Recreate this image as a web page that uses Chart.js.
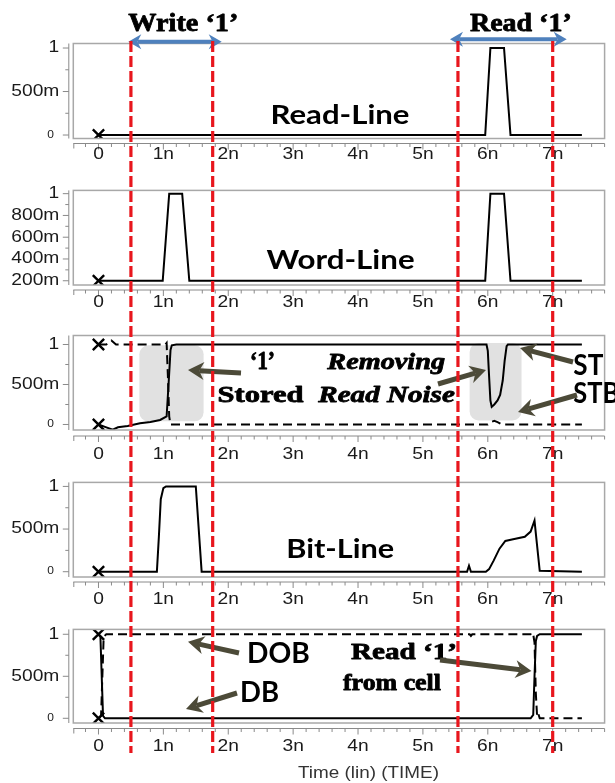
<!DOCTYPE html>
<html>
<head>
<meta charset="utf-8">
<script src="https://cdn.jsdelivr.net/npm/chart.js@4.4.1/dist/chart.umd.min.js"></script>
<style>
  html, body { margin: 0; padding: 0; background: #fff; }
  #page { position: relative; width: 615px; height: 783px; overflow: hidden; }
  #page canvas { position: absolute; left: 0; }
  #overlay { top: 0; pointer-events: none; }
</style>
</head>
<body>
<div id="page">
  <canvas id="p1"></canvas>
  <canvas id="p2"></canvas>
  <canvas id="p3"></canvas>
  <canvas id="p4"></canvas>
  <canvas id="p5"></canvas>
  <canvas id="overlay" width="615" height="783"></canvas>
</div>
<script>
// time axis (ns)
const xTickValues = [0, 1, 2, 3, 4, 5, 6, 7];
const xTickLabels = ['0', '1n', '2n', '3n', '4n', '5n', '6n', '7n'];

const yTicks01 = [0, 0.5, 1];
const yLabels01 = ['0', '500m', '1'];
const yMinor01 = [0.25, 0.75];
const yTicksWL = [0.2, 0.4, 0.6, 0.8, 1];
const yLabelsWL = ['200m', '400m', '600m', '800m', '1'];
const yMinorWL = [0.3, 0.5, 0.7, 0.9];

// waveforms
const readLineT = [0, 5.96, 6.04, 6.25, 6.35, 7.45];
const readLineV = [0, 0, 1, 1, 0, 0];

const wordLineT = [0, 0.99, 1.09, 1.29, 1.40, 5.96, 6.04, 6.25, 6.35, 7.45];
const wordLineV = [0.2, 0.2, 1, 1, 0.2, 0.2, 1, 1, 0.2, 0.2];

const stT = [0, 0.1, 0.22, 0.3, 0.45, 0.64, 0.8, 0.95, 1.05, 1.08, 1.11, 1.13, 1.2,
             5.98, 6.0, 6.02, 6.04, 6.06, 6.1, 6.15, 6.19, 6.23, 6.26, 6.29, 6.31, 7.45];
const stV = [0, -0.03, -0.065, -0.035, -0.02, 0.015, 0.03, 0.056, 0.1, 0.5, 0.93, 0.99, 1,
             1, 0.92, 0.6, 0.3, 0.22, 0.25, 0.3, 0.37, 0.55, 0.8, 0.98, 1, 1];

const stbT = [0, 0.12, 0.2, 0.27, 1.03, 1.05, 1.07, 1.09, 1.11, 6.0, 6.05, 6.1, 6.15, 6.22, 7.45];
const stbV = [1, 1, 1.05, 1, 1, 1.02, 0.6, 0.1, 0, 0, 0.03, 0.045, 0.03, 0, 0];

const bitLineT = [0, 0.9, 0.93, 0.96, 1.0, 1.04, 1.5, 1.59, 5.68, 5.71, 5.74, 5.97, 6.02, 6.09, 6.18,
                  6.27, 6.39, 6.57, 6.66, 6.72, 6.74, 6.8, 7.45];
const bitLineV = [0, 0, 0.4, 0.85, 0.98, 1, 1, 0, 0, 0.07, 0, 0, 0.03, 0.13, 0.27,
                  0.36, 0.38, 0.41, 0.47, 0.6, 0.45, 0.01, 0];

const dbT = [0, 0.03, 0.05, 0.07, 0.1, 6.66, 6.7, 6.72, 6.74, 6.76, 6.8, 7.45];
const dbV = [1, 0.97, 0.5, 0.03, 0, 0, 0.04, 0.5, 0.92, 0.98, 1, 1];
const dobT = [0, 0.04, 0.06, 0.08, 0.12, 5.72, 5.74, 5.76, 6.66, 6.68, 6.7, 6.72, 6.74, 6.76, 6.78, 6.8, 6.84, 7.45];
const dobV = [0, 0.03, 0.5, 0.97, 1, 1, 0.98, 1, 1, 0.98, 1, 0.9, 0.3, 0.02, 0.05, 0, 0, 0];

// write / read window markers (ns)
const markerT = [0.5, 1.76, 5.54, 7.0];
// shaded regions in panel 3: [t0, t1, v0, v1]
const shadeST = [[0.63, 1.62, 0.04, 0.99], [5.72, 6.52, 0.05, 1.02]];

const X_MIN = -0.388, X_MAX = 7.8;
const BOX_LEFT = 73.3, BOX_RIGHT = 605.5, PAGE_W = 615;
const LABEL_FONT = 'Liberation Sans, Arial, sans-serif';
const SX = 1.2; // the waveform screenshot is stretched horizontally

function pts(t, v) { return t.map((x, i) => ({ x: x, y: v[i] })); }

function stretchText(ctx, text, x, y, sx, align) {
  ctx.save();
  ctx.translate(x, y);
  ctx.scale(sx, 1);
  ctx.textAlign = align;
  ctx.fillText(text, 0, 0);
  ctx.restore();
}

const panelFrame = {
  id: 'panelFrame',
  beforeDatasetsDraw(chart, args, opts) {
    const { ctx, scales: { x, y } } = chart;
    (opts.shade || []).forEach(s => {
      const l = x.getPixelForValue(s[0]), r = x.getPixelForValue(s[1]);
      const t = y.getPixelForValue(s[3]), b = y.getPixelForValue(s[2]);
      ctx.save();
      ctx.fillStyle = '#e1e1e1';
      ctx.beginPath();
      ctx.roundRect(l, t, r - l, b - t, 9);
      ctx.fill();
      ctx.restore();
    });
  },
  afterDraw(chart, args, opts) {
    const { ctx, chartArea: a, scales: { x, y } } = chart;
    ctx.save();
    ctx.strokeStyle = '#a8a8a8';
    ctx.lineWidth = 1.5;
    ctx.strokeRect(a.left, a.top, a.right - a.left, a.bottom - a.top);

    // y axis line + ticks
    const yx = a.left - 4.5;
    ctx.strokeStyle = '#8a8a8a';
    ctx.lineWidth = 1;
    ctx.beginPath();
    ctx.moveTo(yx, a.top); ctx.lineTo(yx, a.bottom);
    opts.yMajor.forEach(v => { const p = y.getPixelForValue(v); ctx.moveTo(yx - 6, p); ctx.lineTo(yx, p); });
    opts.yMinor.forEach(v => { const p = y.getPixelForValue(v); ctx.moveTo(yx - 3.5, p); ctx.lineTo(yx, p); });
    // x axis line + ticks
    const xy = a.bottom + opts.xGap;
    ctx.moveTo(a.left, xy); ctx.lineTo(a.right, xy);
    ctx.moveTo(a.left + 0.5, xy); ctx.lineTo(a.left + 0.5, xy + 5);
    for (let k = Math.ceil(x.min * 5); k <= Math.floor(x.max * 5); k++) {
      const p = x.getPixelForValue(k / 5);
      ctx.moveTo(p, xy); ctx.lineTo(p, xy + (k % 5 === 0 ? 6 : 3.5));
    }
    ctx.stroke();

    // tick labels
    ctx.fillStyle = '#1a1a1a';
    ctx.textBaseline = 'middle';
    opts.yMajor.forEach((v, i) => {
      const p = y.getPixelForValue(v);
      if (v === 0) {
        ctx.font = '10px ' + LABEL_FONT;
        stretchText(ctx, opts.yLabels[i], yx - 15, p, SX, 'right');
      } else {
        ctx.font = '16px ' + LABEL_FONT;
        stretchText(ctx, opts.yLabels[i], yx - 9.5, p, SX, 'right');
      }
    });
    ctx.font = '16px ' + LABEL_FONT;
    const ly = a.bottom + opts.xLabelOffset;
    xTickValues.forEach((v, i) => {
      stretchText(ctx, xTickLabels[i], x.getPixelForValue(v), ly, SX, 'center');
    });
    ctx.restore();
  }
};

function series(t, v, dashed) {
  return {
    data: pts(t, v),
    borderColor: '#000',
    borderWidth: 2,
    borderDash: dashed ? [9, 5] : [],
    tension: 0,
    pointStyle: 'crossRot',
    pointRadius: c => (c.dataIndex === 0 ? 8 : 0),
    pointBorderColor: '#000',
    pointBorderWidth: 2.4
  };
}

const panels = [
  { id: 'p1', top: 43.5, bottom: 138.5, yMin: -0.04, yMax: 1.052, xGap: 5, xLabelOffset: 16.5,
    yMajor: yTicks01, yLabels: yLabels01, yMinor: yMinor01,
    datasets: [series(readLineT, readLineV, false)] },
  { id: 'p2', top: 190, bottom: 285, yMin: 0.161, yMax: 1.03, xGap: 5, xLabelOffset: 18,
    yMajor: yTicksWL, yLabels: yLabelsWL, yMinor: yMinorWL,
    datasets: [series(wordLineT, wordLineV, false)] },
  { id: 'p3', top: 335.5, bottom: 430, yMin: -0.069, yMax: 1.1125, xGap: 6, xLabelOffset: 25,
    yMajor: yTicks01, yLabels: yLabels01, yMinor: yMinor01, shade: shadeST,
    datasets: [series(stbT, stbV, true), series(stT, stV, false)] },
  { id: 'p4', top: 482, bottom: 577, yMin: -0.062, yMax: 1.047, xGap: 5, xLabelOffset: 23,
    yMajor: yTicks01, yLabels: yLabels01, yMinor: yMinor01,
    datasets: [series(bitLineT, bitLineV, false)] },
  { id: 'p5', top: 629.3, bottom: 723, yMin: -0.056, yMax: 1.058, xGap: 5.5, xLabelOffset: 24,
    yMajor: yTicks01, yLabels: yLabels01, yMinor: yMinor01,
    datasets: [series(dobT, dobV, true), series(dbT, dbV, false)] }
];

const charts = panels.map(p => {
  const canvas = document.getElementById(p.id);
  const cTop = Math.floor(p.top - 10);
  const cH = Math.ceil(p.bottom - cTop + 40);
  canvas.width = PAGE_W;
  canvas.height = cH;
  canvas.style.top = cTop + 'px';
  return new Chart(canvas, {
    type: 'line',
    data: { datasets: p.datasets },
    options: {
      responsive: false,
      animation: false,
      events: [],
      layout: { padding: { top: p.top - cTop, left: 0, right: PAGE_W - BOX_RIGHT, bottom: 0 } },
      plugins: {
        legend: { display: false },
        tooltip: { enabled: false },
        panelFrame: p
      },
      scales: {
        x: {
          type: 'linear', min: X_MIN, max: X_MAX,
          grid: { display: false }, border: { display: false },
          ticks: { display: false },
          afterFit: s => { s.height = cH - (p.bottom - cTop); }
        },
        y: {
          min: p.yMin, max: p.yMax,
          grid: { display: false }, border: { display: false },
          ticks: { display: false },
          afterFit: s => { s.width = BOX_LEFT; }
        }
      }
    },
    plugins: [panelFrame]
  });
});

// ---- annotations ----
const ov = document.getElementById('overlay').getContext('2d');

function fitText(ctx, text, font, left, baseline, width, color, heavy) {
  ctx.save();
  ctx.font = font;
  ctx.fillStyle = color || '#000';
  ctx.strokeStyle = color || '#000';
  ctx.lineWidth = heavy || 0;
  ctx.lineJoin = 'round';
  ctx.textBaseline = 'alphabetic';
  ctx.textAlign = 'left';
  const w = ctx.measureText(text).width;
  ctx.translate(left, baseline);
  ctx.scale(width / w, 1);
  ctx.fillText(text, 0, 0);
  if (heavy) ctx.strokeText(text, 0, 0);
  ctx.restore();
}

function arrow(ctx, x0, y0, x1, y1, color, lw, len, half, both) {
  ctx.save();
  ctx.strokeStyle = color;
  ctx.fillStyle = color;
  ctx.lineWidth = lw;
  ctx.lineCap = 'butt';
  const a = Math.atan2(y1 - y0, x1 - x0);
  const c = Math.cos(a), s = Math.sin(a);
  const sx = both ? x0 + c * len * 0.7 : x0, sy = both ? y0 + s * len * 0.7 : y0;
  ctx.beginPath();
  ctx.moveTo(sx, sy);
  ctx.lineTo(x1 - c * len * 0.7, y1 - s * len * 0.7);
  ctx.stroke();
  const head = (tx, ty, dc, ds) => {
    ctx.beginPath();
    ctx.moveTo(tx, ty);
    ctx.lineTo(tx - dc * len + ds * half, ty - ds * len - dc * half);
    ctx.lineTo(tx - dc * len * 0.7, ty - ds * len * 0.7);
    ctx.lineTo(tx - dc * len - ds * half, ty - ds * len + dc * half);
    ctx.closePath();
    ctx.fill();
  };
  head(x1, y1, c, s);
  if (both) head(x0, y0, -c, -s);
  ctx.restore();
}

const SERIF_B = 'bold 26px "Liberation Serif", "Times New Roman", serif';
const SERIF_B23 = 'bold 24px "Liberation Serif", "Times New Roman", serif';
const SERIF_BI = 'italic bold 24px "Liberation Serif", "Times New Roman", serif';
const SANS_B = 'bold 27px Lato, "Open Sans", sans-serif';
const SANS_B28 = 'bold 28px Lato, "Open Sans", sans-serif';
const OLIVE = '#4c4a38';
const BLUE = '#4f81bd';

fitText(ov, 'Write \u20181\u2019', SERIF_B, 128.3, 31, 110, '#000', 0.8);
fitText(ov, 'Read \u20181\u2019', SERIF_B, 470, 30.5, 101.7, '#000', 0.8);
arrow(ov, 128.3, 41.7, 221.7, 41.7, BLUE, 4, 13, 7.5, true);
arrow(ov, 450, 39.3, 566.7, 39.3, BLUE, 4, 13, 7.5, true);

fitText(ov, 'Read-Line', SANS_B, 270.5, 124, 139);
fitText(ov, 'Word-Line', SANS_B, 266.6, 269, 148);
fitText(ov, 'Bit-Line', SANS_B, 286.2, 558.3, 108);

fitText(ov, '\u20181\u2019', 'bold 26px "Liberation Serif", serif', 250, 369, 25, '#000', 0.8);
fitText(ov, 'Stored', SERIF_B23, 217.6, 401.7, 86, '#000', 0.8);
fitText(ov, 'Removing', SERIF_BI, 327.3, 369.3, 117.7, '#000', 0.8);
fitText(ov, 'Read Noise', SERIF_BI, 318.3, 401.7, 136.5, '#000', 0.8);
fitText(ov, 'ST', SANS_B28, 573.3, 375, 30);
fitText(ov, 'STB', SANS_B28, 573.3, 403.3, 46);
arrow(ov, 241, 373, 188, 370, OLIVE, 5, 16, 9);
arrow(ov, 438, 384, 486, 370, OLIVE, 5, 16, 9);
arrow(ov, 573, 362, 520, 348, OLIVE, 5, 16, 9);
arrow(ov, 577, 395, 518, 412, OLIVE, 5, 16, 9);

fitText(ov, 'DOB', SANS_B28, 247, 663.3, 62.7);
fitText(ov, 'DB', SANS_B28, 240, 701.7, 39);
fitText(ov, 'Read \u20181\u2019', 'bold 23px "Liberation Serif", serif', 351, 659.3, 106, '#000', 0.8);
fitText(ov, 'from cell', 'bold 23px "Liberation Serif", serif', 343, 690, 98, '#000', 0.8);
arrow(ov, 239, 653, 188, 641.7, OLIVE, 5, 16, 9);
arrow(ov, 237, 693, 186, 709, OLIVE, 5, 16, 9);
arrow(ov, 440, 660, 531.5, 671, OLIVE, 5, 16, 9);

fitText(ov, 'Time (lin) (TIME)', '16px ' + LABEL_FONT, 298, 778.3, 141, '#333');

// red dashed window markers across all panels
const xs = charts[0].scales.x;
ov.save();
ov.strokeStyle = '#e8161d';
ov.lineWidth = 3.2;
ov.setLineDash([11, 4]);
markerT.forEach(t => {
  const px = xs.getPixelForValue(t);
  ov.beginPath();
  ov.moveTo(px, 41);
  ov.lineTo(px, 753);
  ov.stroke();
});
ov.restore();
</script>
</body>
</html>
